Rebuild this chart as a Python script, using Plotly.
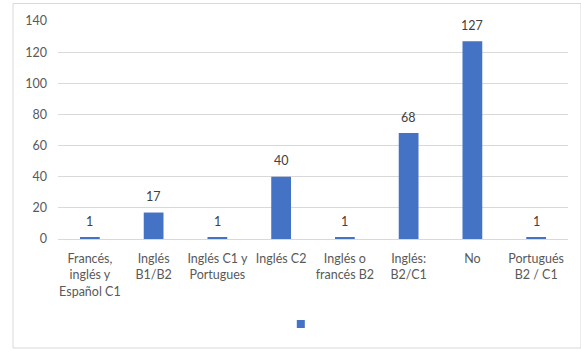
import plotly.graph_objects as go

categories = [
    "Francés,<br>inglés y<br>Español C1",
    "Inglés<br>B1/B2",
    "Inglés C1 y<br>Portugues",
    "Inglés C2",
    "Inglés o<br>francés B2",
    "Inglés:<br>B2/C1",
    "No",
    "Portugués<br>B2 / C1",
]
values = [1, 17, 1, 40, 1, 68, 127, 1]
y_ticks = [0, 20, 40, 60, 80, 100, 120, 140]

BAR_COLOR = "#4472C4"
FONT = "Lato"

fig = go.Figure()
fig.add_trace(
    go.Bar(
        x=categories,
        y=values,
        name="",
        marker=dict(color=BAR_COLOR, line=dict(width=0)),
        width=0.31,
        showlegend=False,
    )
)
# legend entry for the series (small square key, no label)
fig.add_trace(
    go.Scatter(
        x=[None],
        y=[None],
        mode="markers",
        name="",
        marker=dict(symbol="square", size=8, color=BAR_COLOR),
        showlegend=True,
    )
)

# value labels above the bars
for cat, val in zip(categories, values):
    fig.add_annotation(
        x=cat,
        y=val,
        text=str(val),
        showarrow=False,
        yanchor="middle",
        yshift=16,
        font=dict(family=FONT, size=12.5, color="#404040"),
    )

fig.update_layout(
    width=581,
    height=350,
    margin=dict(l=58, r=13, t=21, b=111),
    paper_bgcolor="white",
    plot_bgcolor="white",
    font=dict(family=FONT, size=12, color="#595959"),
    bargap=0.69,
    legend=dict(
        orientation="h",
        x=0.481,
        xanchor="center",
        y=-0.39,
        yanchor="middle",
        font=dict(size=1),
        itemwidth=30,
        bgcolor="rgba(0,0,0,0)",
    ),
    xaxis=dict(
        showgrid=False,
        showline=True,
        linecolor="#d9d9d9",
        linewidth=1,
        ticks="",
        ticklabelstandoff=8,
        tickfont=dict(family=FONT, size=12.5, color="#595959"),
    ),
    yaxis=dict(
        range=[0, 140],
        tickvals=y_ticks,
        showgrid=True,
        gridcolor="#d9d9d9",
        gridwidth=1,
        zeroline=False,
        showline=False,
        ticks="",
        ticklabelstandoff=10,
        tickfont=dict(family=FONT, size=12.5, color="#595959"),
    ),
    shapes=[
        dict(
            type="rect",
            xref="paper",
            yref="paper",
            x0=(13 - 58) / 510,
            x1=(581 - 58) / 510,
            y0=(239 - 348) / 218,
            y1=(239 - 3.5) / 218,
            line=dict(color="#d9d9d9", width=1),
            fillcolor="rgba(0,0,0,0)",
            layer="below",
        )
    ],
)

fig.write_html("out.html")
